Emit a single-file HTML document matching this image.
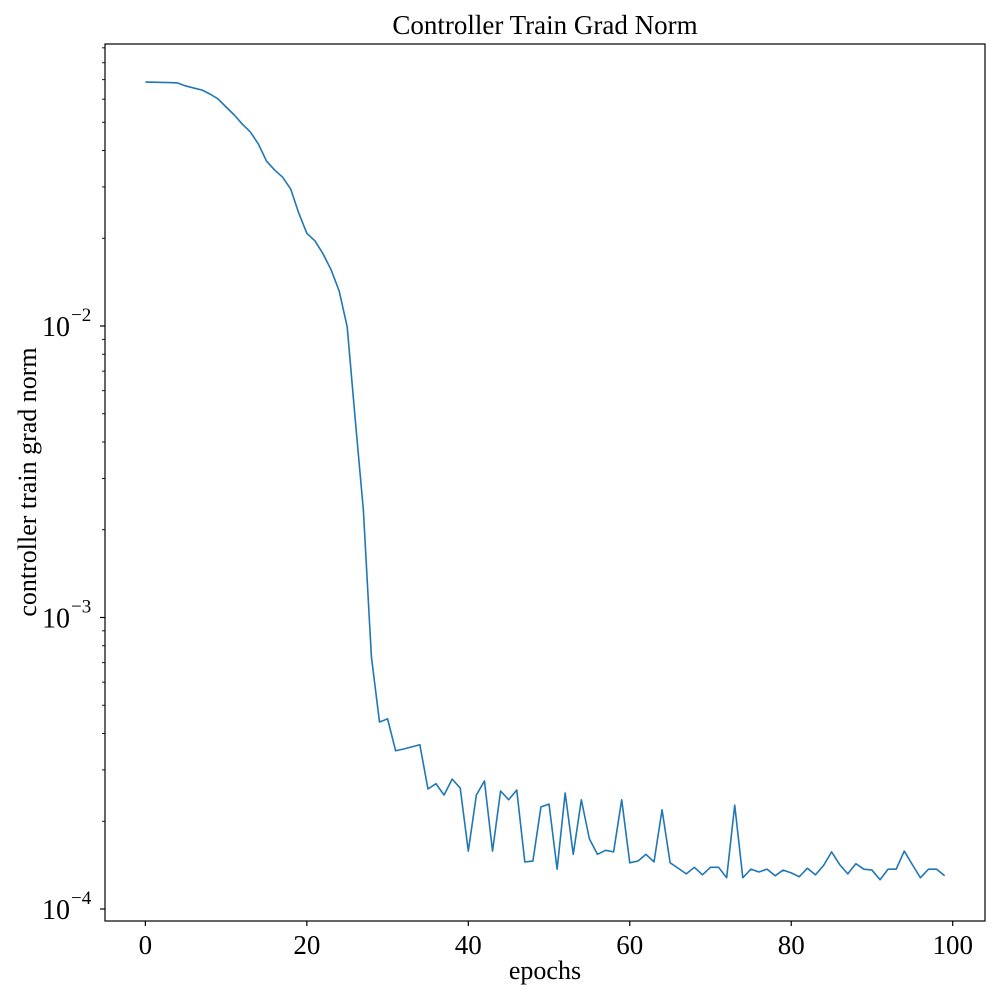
<!DOCTYPE html>
<html><head><meta charset="utf-8"><style>
html,body{margin:0;padding:0;background:#fff;}
svg text{font-family:"Liberation Serif","DejaVu Serif",serif;fill:#000;}
</style></head><body>
<svg id="chart" width="1000" height="1000" xmlns="http://www.w3.org/2000/svg">
<rect width="1000" height="1000" fill="#fff"/>
<g id="axes"></g>
<text x="545" y="34" text-anchor="middle" font-size="27">Controller Train Grad Norm</text>
<text x="545" y="979" text-anchor="middle" font-size="26">epochs</text>
<text transform="translate(36,482) rotate(-90)" text-anchor="middle" font-size="26">controller train grad norm</text>
</svg>
<script>
const epochs = Array.from({length:100},(_,i)=>i);
const gradNorm = [0.0687,0.0686,0.0685,0.0684,0.0682,0.0666,0.0655,0.0645,0.0625,0.0601,
0.0564,0.0530,0.0493,0.0463,0.0421,0.0368,0.0343,0.0324,0.0295,0.0244,
0.0208,0.0196,0.0177,0.0156,0.0132,0.00993,0.00476,0.00234,0.000732,0.000438,
0.000449,0.000349,0.000354,0.000360,0.000366,0.000258,0.000269,0.000246,0.000279,0.000260,
0.000158,0.000246,0.000275,0.000158,0.000254,0.000237,0.000256,0.000145,0.000146,0.000224,
0.000229,0.000137,0.000250,0.000154,0.000237,0.000174,0.000154,0.000159,0.000157,0.000237,
0.000144,0.000146,0.000154,0.000145,0.000219,0.000144,0.000138,0.000132,0.000139,0.000131,
0.000139,0.000139,0.000128,0.000227,0.000128,0.000137,0.000134,0.000137,0.000130,0.000136,
0.000133,0.000129,0.000138,0.000131,0.000141,0.000157,0.000142,0.000132,0.000143,0.000137,
0.000136,0.000126,0.000137,0.000137,0.000158,0.000142,0.000128,0.000137,0.000137,0.000130];
const xTicks = [0,20,40,60,80,100];
const yTickExps = [-4,-3,-2];

const L=105,R=985,T=44,B=921;
const xMin=-5,xMax=104;
const eTop=-2+(326-T)/291.5, eBot=-2-(B-326)/291.5;
const xs=v=>L+(v-xMin)/(xMax-xMin)*(R-L);
const ys=v=>T+(eTop-Math.log10(v))/(eTop-eBot)*(B-T);
const NS="http://www.w3.org/2000/svg";
const g=document.getElementById('axes');
function mk(tag,attrs){const e=document.createElementNS(NS,tag);for(const k in attrs)e.setAttribute(k,attrs[k]);g.appendChild(e);return e;}

const pts=epochs.map((x,i)=>xs(x).toFixed(2)+','+ys(gradNorm[i]).toFixed(2)).join(' ');
const line=mk('polyline',{points:pts,fill:'none',stroke:'#1f77b4','stroke-width':1.6,'stroke-linejoin':'round'});



const fr=mk('rect',{x:L,y:T,width:R-L,height:B-T,fill:'none',stroke:'#000','stroke-width':1.2});



xTicks.forEach(t=>{
  const x=xs(t);
  const tk=mk('line',{x1:x,x2:x,y1:B,y2:B+5,stroke:'#000','stroke-width':1.2});
  
  
  const tx=mk('text',{x:x,y:B+33,'text-anchor':'middle','font-size':27});
  tx.textContent=t;
  
  
});
yTickExps.forEach(p=>{
  const y=ys(Math.pow(10,p));
  const tk=mk('line',{x1:L-5,x2:L,y1:y,y2:y,stroke:'#000','stroke-width':1.2});
  
  
  const tx=mk('text',{x:L-35,y:y+10,'text-anchor':'end','font-size':28});
  tx.textContent='10';
  
  
  const sp=mk('text',{x:L-34,y:y-5,'text-anchor':'start','font-size':19});
  sp.textContent='\u2212'+Math.abs(p);
  
  
});
for(let p=-5;p<=-1;p++){for(let m=2;m<=9;m++){
  const v=m*Math.pow(10,p);const y=ys(v);
  if(y<T||y>B)continue;
  const tk=mk('line',{x1:L-3,x2:L,y1:y,y2:y,stroke:'#000','stroke-width':0.9});
  
  
}}
</script>
</body></html>
